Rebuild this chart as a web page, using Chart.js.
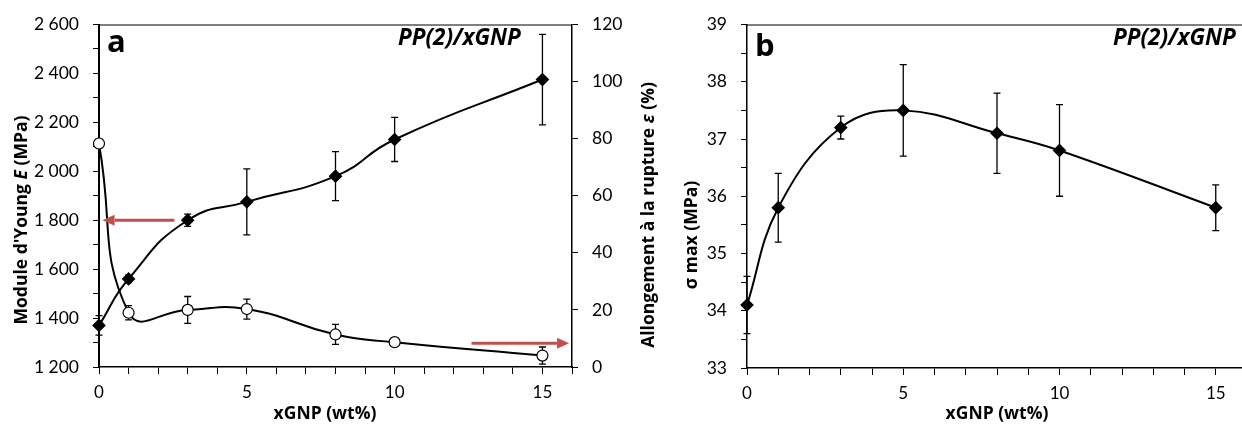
<!DOCTYPE html>
<html lang="fr">
<head>
<meta charset="utf-8">
<title>PP(2)/xGNP</title>
<script src="https://cdn.jsdelivr.net/npm/chart.js@4.4.1/dist/chart.umd.min.js"></script>
<style>
  html, body { margin: 0; padding: 0; background: #fff; overflow: hidden; width: 1242px; height: 427px; }
  .wrap { position: absolute; top: 0; height: 427px; }
  #wrapA { left: 0; width: 660px; }
  #wrapB { left: 660px; width: 600px; }
</style>
</head>
<body>
<div class="wrap" id="wrapA"><canvas id="chartA" width="660" height="427"></canvas></div>
<div class="wrap" id="wrapB"><canvas id="chartB" width="600" height="427"></canvas></div>
<script>
// données (xGNP en wt%)
const xGnp = [0, 1, 3, 5, 8, 10, 15];
// (a) module d'Young E (MPa) et allongement à la rupture (%)
const moduleYoung = [1370, 1560, 1800, 1875, 1980, 2130, 2375];
const moduleErr = [40, 15, 25, 135, 100, 90, 185];
const allongement = [78.3, 19, 20, 20.3, 11.4, 8.7, 4];
const allongementErr = [1.5, 2.5, 4.7, 3.5, 3.5, 1.5, 3];
// (b) contrainte max (MPa)
const sigmaMax = [34.1, 35.8, 37.2, 37.5, 37.1, 36.8, 35.8];
const sigmaErr = [0.5, 0.6, 0.2, 0.8, 0.7, 0.8, 0.4];

// flèches rouges (quel axe lire)
const flecheGaucheX = [2.55, 0.12];
const flecheGaucheY = 1800;
const flecheDroiteX = [12.6, 15.9];
const flecheDroiteY = 8.3;

const FONT = 'Lato, "Open Sans", sans-serif';
const FONT_BOLD = '"Open Sans", Lato, sans-serif';
Chart.defaults.font.family = FONT;
Chart.defaults.color = '#000';

const pts = (xs, ys) => xs.map((x, i) => ({ x: x, y: ys[i] }));
const espaceMilliers = v => String(v).replace(/\B(?=(\d{3})+(?!\d))/g, ' ');

// barres d'erreur, dessinées sous les marqueurs
const errorBars = {
  id: 'errorBars',
  beforeDatasetsDraw(chart) {
    const ctx = chart.ctx;
    chart.data.datasets.forEach((ds, i) => {
      if (!ds.errors) return;
      const meta = chart.getDatasetMeta(i);
      const ys = chart.scales[ds.yAxisID];
      ctx.save();
      ctx.strokeStyle = '#000';
      ctx.lineWidth = 1.3;
      meta.data.forEach((pt, j) => {
        const v = ds.data[j].y, e = ds.errors[j];
        const top = ys.getPixelForValue(v + e), bot = ys.getPixelForValue(v - e);
        ctx.beginPath();
        ctx.moveTo(pt.x, top); ctx.lineTo(pt.x, bot);
        ctx.moveTo(pt.x - 3.5, top); ctx.lineTo(pt.x + 3.5, top);
        ctx.moveTo(pt.x - 3.5, bot); ctx.lineTo(pt.x + 3.5, bot);
        ctx.stroke();
      });
      ctx.restore();
    });
  }
};

// flèches
const arrows = {
  id: 'arrows',
  afterDatasetsDraw(chart, args, opts) {
    if (!opts.items) return;
    const ctx = chart.ctx;
    const xs = chart.scales.x;
    opts.items.forEach(a => {
      const ys = chart.scales[a.axis];
      const x0 = xs.getPixelForValue(a.x[0]), x1 = xs.getPixelForValue(a.x[1]);
      const y = ys.getPixelForValue(a.y);
      const dir = Math.sign(x1 - x0);
      const head = 12;
      ctx.save();
      ctx.strokeStyle = '#c0504d';
      ctx.fillStyle = '#c0504d';
      ctx.lineWidth = 3;
      ctx.beginPath();
      ctx.moveTo(x0, y);
      ctx.lineTo(x1 - dir * head, y);
      ctx.stroke();
      ctx.beginPath();
      ctx.moveTo(x1, y);
      ctx.lineTo(x1 - dir * head, y - 5.5);
      ctx.lineTo(x1 - dir * head, y + 5.5);
      ctx.closePath();
      ctx.fill();
      ctx.restore();
    });
  }
};

// cadre du haut, lettres, titres d'axes (avec italique)
function drawRich(ctx, parts, size, cx, cy, rot) {
  ctx.save();
  ctx.translate(cx, cy);
  ctx.rotate(rot);
  ctx.textBaseline = 'middle';
  ctx.textAlign = 'left';
  let total = 0;
  parts.forEach(p => {
    ctx.font = (p.i ? 'italic ' : '') + 'bold ' + size + 'px ' + FONT_BOLD;
    total += ctx.measureText(p.t).width;
  });
  let x = -total / 2;
  parts.forEach(p => {
    ctx.font = (p.i ? 'italic ' : '') + 'bold ' + size + 'px ' + FONT_BOLD;
    ctx.fillText(p.t, x, 0);
    x += ctx.measureText(p.t).width;
  });
  ctx.restore();
}

const decor = {
  id: 'decor',
  afterDraw(chart, args, opts) {
    const ctx = chart.ctx;
    const ca = chart.chartArea;
    ctx.save();
    ctx.strokeStyle = '#000';
    ctx.lineWidth = 1;
    ctx.beginPath();
    ctx.moveTo(ca.left, ca.top + 0.5);
    ctx.lineTo(ca.right, ca.top + 0.5);
    ctx.stroke();
    ctx.fillStyle = '#000';
    (opts.texts || []).forEach(t => {
      ctx.font = t.font;
      ctx.textAlign = 'left';
      ctx.textBaseline = 'alphabetic';
      ctx.fillText(t.text, t.x, t.y);
    });
    (opts.titles || []).forEach(t => drawRich(ctx, t.parts, t.size, t.x, t.y, t.rot));
    ctx.restore();
  }
};

function axeX() {
  return {
    type: 'linear', min: 0, max: 16,
    afterFit: s => { s.height = 60; },
    ticks: {
      stepSize: 1, autoSkip: false, maxRotation: 0, padding: 8,
      font: { size: 17 },
      callback: v => (v % 5 === 0 && v <= 15) ? String(v) : ''
    },
    grid: { drawOnChartArea: false, drawTicks: true, tickLength: 7, color: '#000', tickWidth: 1 },
    border: { display: true, color: '#000', width: 1.5 }
  };
}

const lineStyle = {
  borderColor: '#000', borderWidth: 2, tension: 0.5, clip: false,
  pointBorderColor: '#000', pointBorderWidth: 1.2, pointHoverRadius: 6
};

new Chart(document.getElementById('chartA'), {
  type: 'line',
  data: {
    datasets: [
      Object.assign({}, lineStyle, {
        label: "Module d'Young E (MPa)",
        data: pts(xGnp, moduleYoung), errors: moduleErr, yAxisID: 'y',
        pointStyle: 'rectRot', pointRadius: 6, pointBackgroundColor: '#000'
      }),
      Object.assign({}, lineStyle, {
        label: 'Allongement à la rupture ε (%)',
        data: pts(xGnp, allongement), errors: allongementErr, yAxisID: 'y2',
        pointStyle: 'circle', pointRadius: 5.5, pointBackgroundColor: '#fff'
      })
    ]
  },
  options: {
    responsive: false, animation: false,
    layout: { padding: { top: 24, left: 0, right: 0, bottom: 0 } },
    plugins: {
      legend: { display: false }, tooltip: { enabled: false },
      arrows: { items: [
        { x: flecheGaucheX, y: flecheGaucheY, axis: 'y' },
        { x: flecheDroiteX, y: flecheDroiteY, axis: 'y2' }
      ] },
      decor: {
        texts: [
          { text: 'a', x: 107, y: 52, font: 'bold 31px ' + FONT_BOLD },
          { text: 'PP(2)/xGNP', x: 398, y: 45, font: 'italic bold 22.5px ' + FONT_BOLD }
        ],
        titles: [
          { parts: [{ t: "Module d'Young " }, { t: 'E', i: true }, { t: ' (MPa)' }], size: 17.5, x: 22, y: 220, rot: -Math.PI / 2 },
          { parts: [{ t: 'Allongement à la rupture ' }, { t: 'ε', i: true }, { t: ' (%)' }], size: 17.5, x: 649, y: 215, rot: -Math.PI / 2 },
          { parts: [{ t: 'xGNP (wt%)' }], size: 17.5, x: 325, y: 414, rot: 0 }
        ]
      }
    },
    scales: {
      x: axeX(),
      y: {
        type: 'linear', position: 'left', min: 1200, max: 2600,
        afterFit: s => { s.width = 99; },
        ticks: { stepSize: 100, padding: 14, font: { size: 17.5 },
          callback: v => v % 200 === 0 ? espaceMilliers(v) : '' },
        grid: { drawOnChartArea: false, drawTicks: true, tickLength: 6, color: '#000' },
        border: { display: true, color: '#000', width: 2 }
      },
      y2: {
        type: 'linear', position: 'right', min: 0, max: 120,
        afterFit: s => { s.width = 88; },
        ticks: { stepSize: 20, padding: 14, font: { size: 17.5 } },
        grid: { drawOnChartArea: false, drawTicks: true, tickLength: 6, color: '#000' },
        border: { display: true, color: '#000', width: 1.5 }
      }
    }
  },
  plugins: [errorBars, arrows, decor]
});

new Chart(document.getElementById('chartB'), {
  type: 'line',
  data: {
    datasets: [
      Object.assign({}, lineStyle, {
        label: 'σ max (MPa)', tension: 0.4,
        data: pts(xGnp, sigmaMax), errors: sigmaErr, yAxisID: 'y',
        pointStyle: 'rectRot', pointRadius: 6, pointBackgroundColor: '#000'
      })
    ]
  },
  options: {
    responsive: false, animation: false,
    layout: { padding: { top: 23, left: 0, right: 13, bottom: 0 } },
    plugins: {
      legend: { display: false }, tooltip: { enabled: false },
      decor: {
        texts: [
          { text: 'b', x: 95, y: 56, font: 'bold 31px ' + FONT_BOLD },
          { text: 'PP(2)/xGNP', x: 453, y: 45, font: 'italic bold 22.5px ' + FONT_BOLD }
        ],
        titles: [
          { parts: [{ t: 'σ max (MPa)' }], size: 17.5, x: 32, y: 235, rot: -Math.PI / 2 },
          { parts: [{ t: 'xGNP (wt%)' }], size: 17.5, x: 337, y: 414, rot: 0 }
        ]
      }
    },
    scales: {
      x: Object.assign(axeX(), { afterFit: s => { s.height = 59; } }),
      y: {
        type: 'linear', position: 'left', min: 33, max: 39,
        afterFit: s => { s.width = 87; },
        ticks: { stepSize: 0.5, padding: 14, font: { size: 17.5 },
          callback: v => Number.isInteger(v) ? String(v) : '' },
        grid: { drawOnChartArea: false, drawTicks: true, tickLength: 6, color: '#000' },
        border: { display: true, color: '#000', width: 1.5 }
      }
    }
  },
  plugins: [errorBars, decor]
});
</script>
</body>
</html>
